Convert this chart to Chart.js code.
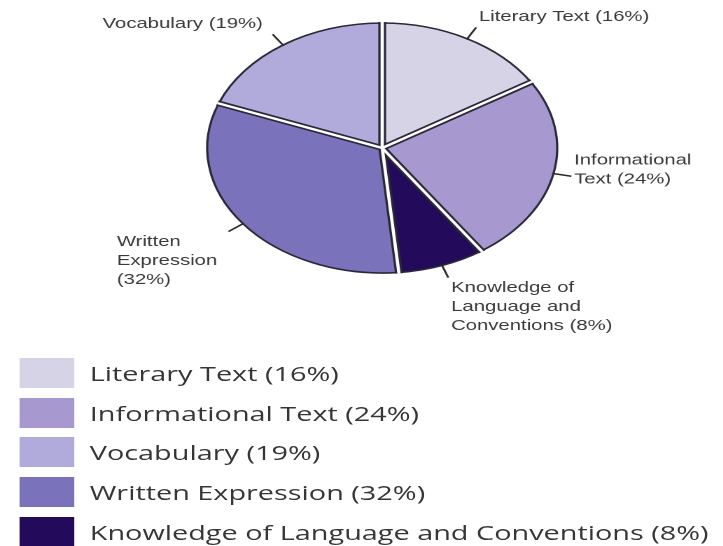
<!DOCTYPE html>
<html>
<head>
<meta charset="utf-8">
<script src="https://cdn.jsdelivr.net/npm/chart.js@4.4.1/dist/chart.umd.min.js"></script>
<style>
  html, body { margin: 0; padding: 0; background: #fff; overflow: hidden; }
  /* the reference is stretched sideways, so the whole stage is too */
  #stage { position: relative; width: 516px; height: 546px; transform: scaleX(1.4); transform-origin: 0 0; }
  #pie { position: absolute; left: 0; top: 0; }
  #legend { position: absolute; left: 14px; top: 353px; font-family: 'Open Sans', sans-serif; font-size: 20.6px; color: #363636; }
  .row { display: flex; align-items: center; height: 39.7px; }
  .swatch { width: 38.6px; height: 30px; margin-right: 11.5px; flex: none; }
  .row span { white-space: nowrap; line-height: 30px; }
</style>
</head>
<body>
<div id="stage">
  <canvas id="pie" width="516" height="350"></canvas>
  <div id="legend"></div>
</div>
<script>
// slices, clockwise from 12 o'clock
const categories = ['Literary Text', 'Informational Text', 'Knowledge of Language and Conventions', 'Written Expression', 'Vocabulary'];
const shares = [16, 24, 8, 32, 19];
const sliceColors = ['#d6d3e7', '#a898d0', '#230a5b', '#7b72bc', '#b0abdb'];
const pieLabelLines = [
    ['Literary Text (16%)'],
    ['Informational', 'Text (24%)'],
    ['Knowledge of', 'Language and', 'Conventions (8%)'],
    ['Written', 'Expression', '(32%)'],
    ['Vocabulary (19%)'],
];
// legend lists the slices in another order
const legendOrder = [0, 1, 4, 3, 2];

const EDGE = '#2a2838';

// white gaps with dark edges between the slices
const sliceGapPlugin = {
    id: 'sliceGaps',
    afterDatasetsDraw(chart) {
        const ctx = chart.ctx;
        const arcs = chart.getDatasetMeta(0).data;
        const strokeAll = (color, width) => {
            ctx.strokeStyle = color;
            ctx.lineWidth = width;
            arcs.forEach(arc => {
                const p = arc.getProps(['x', 'y', 'startAngle', 'outerRadius'], true);
                const r = p.outerRadius + 1;
                ctx.beginPath();
                ctx.moveTo(p.x, p.y);
                ctx.lineTo(p.x + Math.cos(p.startAngle) * r, p.y + Math.sin(p.startAngle) * r);
                ctx.stroke();
            });
        };
        ctx.save();
        ctx.lineCap = 'butt';
        strokeAll(EDGE, 5.6);
        strokeAll('#ffffff', 2.3);
        ctx.restore();
    },
};

// Draws the outside labels with short leader lines
const pieLabelPlugin = {
    id: 'pieLabels',
    afterDatasetsDraw(chart) {
        const ctx = chart.ctx;
        const arcs = chart.getDatasetMeta(0).data;
        const lh = 19;
        ctx.save();
        ctx.font = '14.5px "Liberation Sans", Arial, sans-serif';
        ctx.fillStyle = '#3a3a3a';
        ctx.strokeStyle = '#2b2b2b';
        ctx.lineWidth = 1.5;
        ctx.textBaseline = 'middle';
        ctx.textAlign = 'left';

        arcs.forEach((arc, i) => {
            const p = arc.getProps(['x', 'y', 'startAngle', 'endAngle', 'outerRadius'], true);
            const mid = (p.startAngle + p.endAngle) / 2;
            const cos = Math.cos(mid);
            const sin = Math.sin(mid);
            const r0 = p.outerRadius - 1;
            const r1 = r0 + 14;
            const ex = p.x + cos * r1;
            const ey = p.y + sin * r1;

            ctx.beginPath();
            ctx.moveTo(p.x + cos * r0, p.y + sin * r0);
            ctx.lineTo(ex, ey);
            ctx.stroke();

            const lines = pieLabelLines[i];
            const w = Math.max(...lines.map(l => ctx.measureText(l).width));
            const h = lines.length * lh;
            let left, top;
            if (sin < -0.5) {
                top = ey - h - 1;
                left = cos > 0 ? ex + 2 : ex - 7 - w;
            } else if (sin > 0.5) {
                top = ey + 1;
                left = cos > 0 ? ex + 2 : ex - 8 - w;
            } else {
                top = ey + 3 + lh / 2 - h;
                left = cos > 0 ? ex + 2 : ex - 4 - w;
            }
            lines.forEach((line, k) => {
                ctx.fillText(line, left, top + lh * (k + 0.5));
            });
        });
        ctx.restore();
    },
};

const pieCtx = document.getElementById('pie').getContext('2d');
new Chart(pieCtx, {
    type: 'pie',
    data: {
        labels: categories,
        datasets: [{
            data: shares,
            backgroundColor: sliceColors,
            borderColor: EDGE,
            borderWidth: 1.6,
        }],
    },
    options: {
        responsive: false,
        devicePixelRatio: 2,
        animation: false,
        events: [],
        radius: 125,
        layout: { padding: { left: 30, right: 0, top: 0, bottom: 54 } },
        plugins: {
            legend: { display: false },
            tooltip: { enabled: false },
        },
    },
    plugins: [sliceGapPlugin, pieLabelPlugin],
});

// HTML legend, one entry per row
const legendEl = document.getElementById('legend');
legendOrder.forEach(i => {
    const row = document.createElement('div');
    row.className = 'row';
    const sw = document.createElement('div');
    sw.className = 'swatch';
    sw.style.background = sliceColors[i];
    const txt = document.createElement('span');
    txt.textContent = `${categories[i]} (${shares[i]}%)`;
    row.appendChild(sw);
    row.appendChild(txt);
    legendEl.appendChild(row);
});
</script>
</body>
</html>
